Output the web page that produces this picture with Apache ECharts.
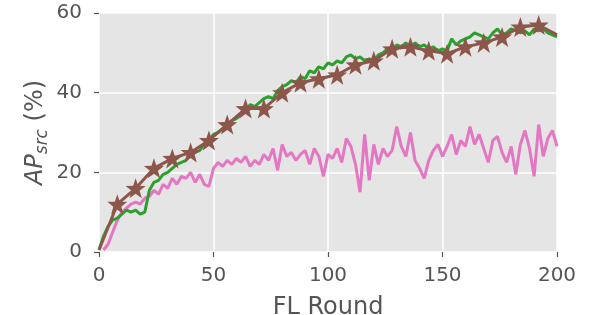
<!DOCTYPE html>
<html>
<head>
<meta charset="utf-8">
<script src="https://cdn.jsdelivr.net/npm/echarts@6/dist/echarts.min.js"></script>
<style>html,body{margin:0;padding:0;background:#fff}#c{width:600px;height:315px}</style>
</head>
<body>
<div id="c"></div>
<script>
const xTicks = [0, 50, 100, 150, 200];
const yTicks = [0, 20, 40, 60];

// pink: rounds 2..200 step 2
const pinkRounds = [];
for (let r = 2; r <= 200; r += 2) pinkRounds.push(r);
const pinkValues = [0.5,2,5,8,10,11,12,12.5,12,13.5,
  14,15.5,14.5,17,16,18.5,17,19,18.5,20,
  17.5,19.5,17,16.5,21,22.5,21.5,23,22,23.5,
  22.5,24,21.5,23,22,24.5,23,26,20.5,27,
  24,25,23,24.5,25.5,22,26,24,19,24.5,
  23.5,26,22.5,28.5,26.5,22,15,29.5,18,27,
  22,26,24,25.5,31.5,26.5,24,30,23,21,
  18.5,23,25.5,27,24,26.5,29.5,24.5,28,26.5,
  31.5,27,29.5,26,22.5,28,29,25,22.5,26.5,
  19.5,27,30.5,26,19,32,24,28.5,30.5,26.5];

// green: rounds 0..200 step 2
const greenRounds = [];
for (let r = 0; r <= 200; r += 2) greenRounds.push(r);
const greenValues = [0.5,4,6.5,8,8.5,9.5,10.5,10,10.5,9.5,
  10,15.5,17.5,18,19.5,20,21,22,22.5,23,
  24.5,25,25.5,27,28,29.5,30,31,32,33,
  33.5,34.5,35.5,37,36.5,37.5,38.5,39,38.5,40.5,
  41.5,42,43,42.5,44,43.5,45.5,45,46.5,46,
  47.5,47,48,47.5,49,49.5,48.5,49,48,48.5,
  48,49.5,50,51,50.5,52,51.5,52.5,51.5,52.5,
  51.5,52,51,51.5,50.5,51,50.5,53.5,52,53,
  53.5,54,55,54.5,54,53.5,55,56,54.5,55,
  56,55.5,55,55.5,54.5,56,55.5,56,55,54.5,54];

// brown (stars every 8 rounds)
const brownRounds = [0,8,16,24,32,40,48,56,64,72,80,88,96,104,112,120,128,136,144,152,160,168,176,184,192,200];
const brownValues = [0.5,12,16,21,23.5,25,28,32,36,36,40,42.5,43.5,44.5,47,48,51,51.5,50.5,49.8,51.5,52.5,54,56.5,57,54.5];

const zip = (a, b) => a.map((x, i) => [x, b[i]]);

const chart = echarts.init(document.getElementById('c'), null, {renderer: 'canvas'});
const txt = '#555555';
const font = 'DejaVu Sans';
chart.setOption({
  animation: false,
  backgroundColor: '#ffffff',
  grid: {left: 99, right: 43, top: 13, bottom: 63, show: true, backgroundColor: '#e5e5e5', borderWidth: 0,
         containLabel: false, outerBoundsMode: 'none'},
  xAxis: {
    type: 'value', min: 0, max: 200, interval: 50,
    name: 'FL Round', nameLocation: 'middle', nameGap: 44, nameMoveOverlap: false,
    nameTextStyle: {color: txt, fontSize: 24, fontFamily: font},
    axisLine: {show: true, lineStyle: {color: 'rgba(0,0,0,0)'}},
    axisTick: {show: true, length: 5, lineStyle: {color: txt, width: 1.2}},
    axisLabel: {color: txt, fontSize: 20, fontFamily: font, margin: 12, verticalAlign: 'top', lineHeight: 24},
    splitLine: {show: true, lineStyle: {color: '#ffffff', width: 1.5}}
  },
  yAxis: {
    type: 'value', min: 0, max: 60, interval: 20,
    name: '{a|AP}{b|src}{c| (%)}', nameLocation: 'middle', nameGap: 48, nameRotate: 90, nameMoveOverlap: false,
    nameTextStyle: {
      color: txt, fontFamily: font,
      rich: {
        a: {fontSize: 24, fontStyle: 'italic', color: txt, fontFamily: font, lineHeight: 30, verticalAlign: 'middle'},
        b: {fontSize: 17, fontStyle: 'italic', color: txt, fontFamily: font, lineHeight: 14, verticalAlign: 'bottom'},
        c: {fontSize: 24, color: txt, fontFamily: font, lineHeight: 30, verticalAlign: 'middle'}
      }
    },
    axisLine: {show: true, lineStyle: {color: 'rgba(0,0,0,0)'}},
    axisTick: {show: true, length: 5, lineStyle: {color: txt, width: 1.2}},
    axisLabel: {color: txt, fontSize: 20, fontFamily: font, margin: 17, align: 'right'},
    splitLine: {show: true, lineStyle: {color: '#ffffff', width: 1.5}}
  },
  series: [
    {type: 'line', data: zip(pinkRounds, pinkValues), showSymbol: false, symbol: 'none',
     lineStyle: {color: '#e377c2', width: 3}, itemStyle: {color: '#e377c2'}, z: 2},
    {type: 'line', data: zip(greenRounds, greenValues), showSymbol: false, symbol: 'none',
     lineStyle: {color: '#2ca02c', width: 3}, itemStyle: {color: '#2ca02c'}, z: 3},
    {type: 'line', data: zip(brownRounds, brownValues),
     symbol: (v) => (v[0] > 0 && v[0] < 200) ? 'path://M0,-10 L2.35,-3.24 L9.51,-3.09 L3.8,1.24 L5.88,8.09 L0,4 L-5.88,8.09 L-3.8,1.24 L-9.51,-3.09 L-2.35,-3.24 Z' : 'none',
     symbolSize: 20, showAllSymbol: true,
     lineStyle: {color: '#8c564b', width: 3}, itemStyle: {color: '#8c564b', borderWidth: 0}, z: 4}
  ]
});
</script>
</body>
</html>
